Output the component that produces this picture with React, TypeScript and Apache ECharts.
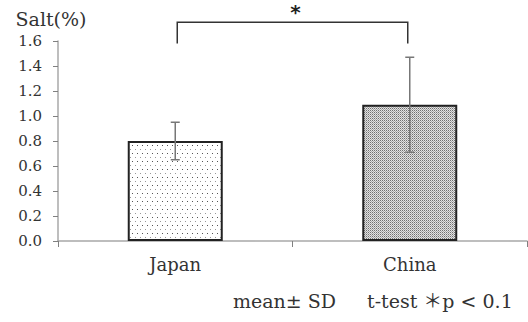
import React, { useEffect, useRef } from "react";
import * as echarts from "echarts";

const categories = ["Japan", "China"];
const means = [0.8, 1.09];
const sds = [0.15, 0.38];
const yTicks = { min: 0, max: 1.6, interval: 0.2 };
const bracket = { from: 0, to: 1, top: 1.75, bottom: 1.58, star: 1.84, label: "*" };
const noteLeft = "mean\u00b1 SD";
const noteRight = "t-test \uff0ap < 0.1";

const FONT = "'DejaVu Serif', 'Liberation Serif', serif";

function makeTile(w: number, h: number, bg: string, dots: [number, number, string][]) {
  const c = document.createElement("canvas");
  c.width = w;
  c.height = h;
  const ctx = c.getContext("2d")!;
  ctx.fillStyle = bg;
  ctx.fillRect(0, 0, w, h);
  dots.forEach(([x, y, col]) => {
    ctx.fillStyle = col;
    ctx.fillRect(x, y, 1, 1);
  });
  return c;
}

export default function App() {
  const ref = useRef<HTMLDivElement>(null);
  useEffect(() => {
    if (!ref.current) return;
    const chart = echarts.init(ref.current, undefined, { renderer: "svg" });
    const sparse = makeTile(5, 8, "#ffffff", [
      [2, 1, "#555555"],
      [0, 5, "#999999"],
    ]);
    const dense = makeTile(2, 2, "#e2e2e2", [
      [0, 0, "#707070"],
      [1, 1, "#a8a8a8"],
    ]);
    const patterns = [sparse, dense];

    chart.setOption({
      animation: false,
      grid: { left: 58, right: 1, top: 41, bottom: 81 },
      xAxis: {
        type: "category",
        data: categories,
        axisLine: { lineStyle: { color: "#a8a8a8", width: 1.5 } },
        axisTick: { show: true, length: 6, lineStyle: { color: "#808080" } },
        axisLabel: { color: "#333", fontFamily: FONT, fontSize: 18, margin: 14 },
      },
      yAxis: {
        type: "value",
        min: yTicks.min,
        max: yTicks.max,
        interval: yTicks.interval,
        name: "Salt(%)",
        nameLocation: "end",
        nameGap: 13,
        nameTextStyle: { color: "#333", fontFamily: FONT, fontSize: 19, padding: [0, 14, 0, 0] },
        splitLine: { show: false },
        axisLine: { show: true, lineStyle: { color: "#a8a8a8", width: 1.5 } },
        axisTick: { show: true, length: 5, lineStyle: { color: "#808080" } },
        axisLabel: {
          color: "#333",
          fontFamily: FONT,
          fontSize: 15,
          margin: 16,
          formatter: (v: number) => v.toFixed(1),
        },
      },
      series: [
        {
          type: "bar",
          barWidth: 95,
          data: means.map((m, i) => ({
            value: m,
            itemStyle: {
              color: { image: patterns[i], repeat: "repeat" },
              borderColor: "#222",
              borderWidth: 2,
            },
          })),
          z: 2,
        },
        {
          type: "custom",
          z: 3,
          data: means.map((m, i) => [i, m - sds[i], m + sds[i]]),
          renderItem: (params: any, api: any) => {
            const x = api.value(0);
            const lo = api.coord([x, api.value(1)]);
            const hi = api.coord([x, api.value(2)]);
            const cap = 4.5;
            const style = { stroke: "#777", lineWidth: 1.5 };
            return {
              type: "group",
              children: [
                { type: "line", shape: { x1: hi[0], y1: hi[1], x2: lo[0], y2: lo[1] }, style },
                { type: "line", shape: { x1: hi[0] - cap, y1: hi[1], x2: hi[0] + cap, y2: hi[1] }, style },
                { type: "line", shape: { x1: lo[0] - cap, y1: lo[1], x2: lo[0] + cap, y2: lo[1] }, style },
              ],
            };
          },
        },
        {
          type: "custom",
          z: 3,
          clip: false,
          data: [[bracket.from, bracket.to, bracket.top, bracket.bottom, bracket.star]],
          renderItem: (params: any, api: any) => {
            const a = api.coord([api.value(0), api.value(3)]);
            const aTop = api.coord([api.value(0), api.value(2)]);
            const b = api.coord([api.value(1), api.value(3)]);
            const bTop = api.coord([api.value(1), api.value(2)]);
            const star = api.coord([api.value(0), api.value(4)]);
            const midX = (aTop[0] + bTop[0]) / 2;
            return {
              type: "group",
              children: [
                {
                  type: "polyline",
                  shape: { points: [[a[0] + 2, a[1]], [aTop[0] + 2, aTop[1]], [bTop[0] - 2, bTop[1]], [b[0] - 2, b[1]]] },
                  style: { stroke: "#333", lineWidth: 1.5, fill: "none" },
                },
                {
                  type: "text",
                  x: midX + 3,
                  y: star[1] + 1,
                  style: {
                    text: bracket.label,
                    fill: "#222",
                    font: "bold 20px 'DejaVu Sans', sans-serif",
                    align: "center",
                    verticalAlign: "middle",
                  },
                },
              ],
            };
          },
        },
      ],
      graphic: [
        {
          type: "text",
          x: 233,
          y: 301,
          style: { text: noteLeft, fill: "#333", font: "19px " + FONT, verticalAlign: "middle" },
        },
        {
          type: "text",
          x: 367,
          y: 301,
          style: {
            text: noteRight,
            fill: "#333",
            font: "19px 'DejaVu Serif', 'Noto Sans CJK JP', serif",
            verticalAlign: "middle",
          },
        },
      ],
    });
    return () => chart.dispose();
  }, []);
  return <div ref={ref} style={{ width: 528, height: 322, position: "absolute", left: 0, top: 0 }} />;
}
